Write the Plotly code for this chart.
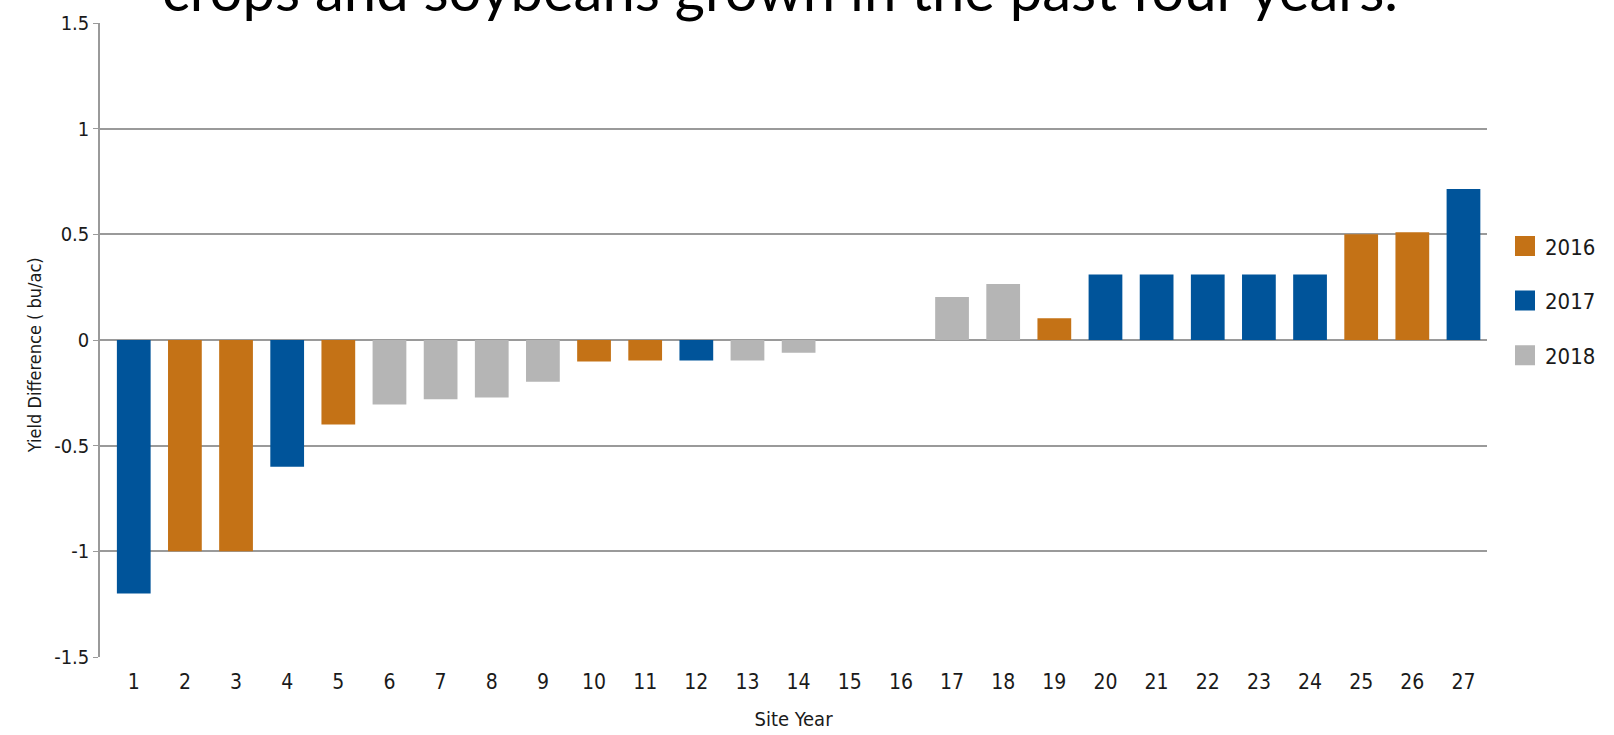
import plotly.graph_objects as go

sites = list(range(1, 28))
values = [-1.2, -1.0, -1.0, -0.6, -0.4, -0.305, -0.28, -0.272, -0.197, -0.102, -0.097, -0.097, -0.097, -0.06,
          0.0, 0.0, 0.204, 0.265, 0.103, 0.31, 0.31, 0.31, 0.31, 0.31, 0.5, 0.51, 0.715]
years = ["2017", "2016", "2016", "2017", "2016", "2018", "2018", "2018", "2018", "2016", "2016", "2017", "2018", "2018",
         "2018", "2018", "2018", "2018", "2016", "2017", "2017", "2017", "2017", "2017", "2016", "2016", "2017"]
year_names = ["2016", "2017", "2018"]
colors = {"2016": "#C47216", "2017": "#00549A", "2018": "#B5B5B5"}
y_ticks = [1.5, 1, 0.5, 0, -0.5, -1, -1.5]
y_tick_text = ["1.5", "1", "0.5", "0", "-0.5", "-1", "-1.5"]
title_text = "crops and soybeans grown in the past four years."
y_title = "Yield Difference ( bu/ac)"
x_title = "Site Year"

CHART_FONT = "DejaVu Sans Condensed, Liberation Sans Narrow, sans-serif"

fig = go.Figure()
for yr in year_names:
    xs = [s for s, y in zip(sites, years) if y == yr]
    vs = [v for v, y in zip(values, years) if y == yr]
    fig.add_trace(go.Bar(x=xs, y=vs, name=yr, marker=dict(color=colors[yr], line=dict(width=0)),
                         width=0.66, showlegend=False))
    fig.add_trace(go.Scatter(x=[None], y=[None], mode="markers", name=yr, legendgroup=yr,
                             marker=dict(symbol="square", size=16, color=colors[yr],
                                         line=dict(color=colors[yr], width=4))))

fig.update_layout(
    width=1614, height=735,
    margin=dict(l=100, r=127, t=23, b=78),
    paper_bgcolor="white", plot_bgcolor="white",
    barmode="overlay",
    font=dict(family=CHART_FONT, color="#1a1a1a", size=18),
    legend=dict(x=1.013, xanchor="left", y=0.562, yanchor="middle", tracegroupgap=23,
                font=dict(size=22, family=CHART_FONT, color="#1a1a1a"), itemwidth=30),
    xaxis=dict(range=[0.34, 27.46], tickmode="array", tickvals=sites, ticktext=[str(s) for s in sites],
               showgrid=False, zeroline=False, showline=False, ticks="", automargin=False,
               tickfont=dict(size=21), ticklabelstandoff=10,
               title=dict(text=x_title, font=dict(size=20), standoff=18)),
    yaxis=dict(range=[-1.5, 1.5], tickmode="array", tickvals=y_ticks, ticktext=y_tick_text,
               showgrid=True, gridcolor="#9A9A9A", gridwidth=2, zeroline=False, automargin=False,
               showline=True, linecolor="#9A9A9A", linewidth=1.5, ticks="outside", ticklen=5,
               tickcolor="#9A9A9A", tickfont=dict(size=20)),
    annotations=[
        dict(text=title_text, xref="paper", yref="paper", x=0.490, y=0.997, xanchor="center",
             yanchor="bottom", showarrow=False,
             font=dict(family="Lato, Open Sans, sans-serif", size=58, color="black")),
        dict(text=y_title, xref="paper", yref="paper", x=-0.0476, y=0.476, xanchor="center",
             yanchor="middle", textangle=-90, showarrow=False,
             font=dict(family=CHART_FONT, size=18, color="#1a1a1a")),
    ],
)

fig.write_html("out.html")
